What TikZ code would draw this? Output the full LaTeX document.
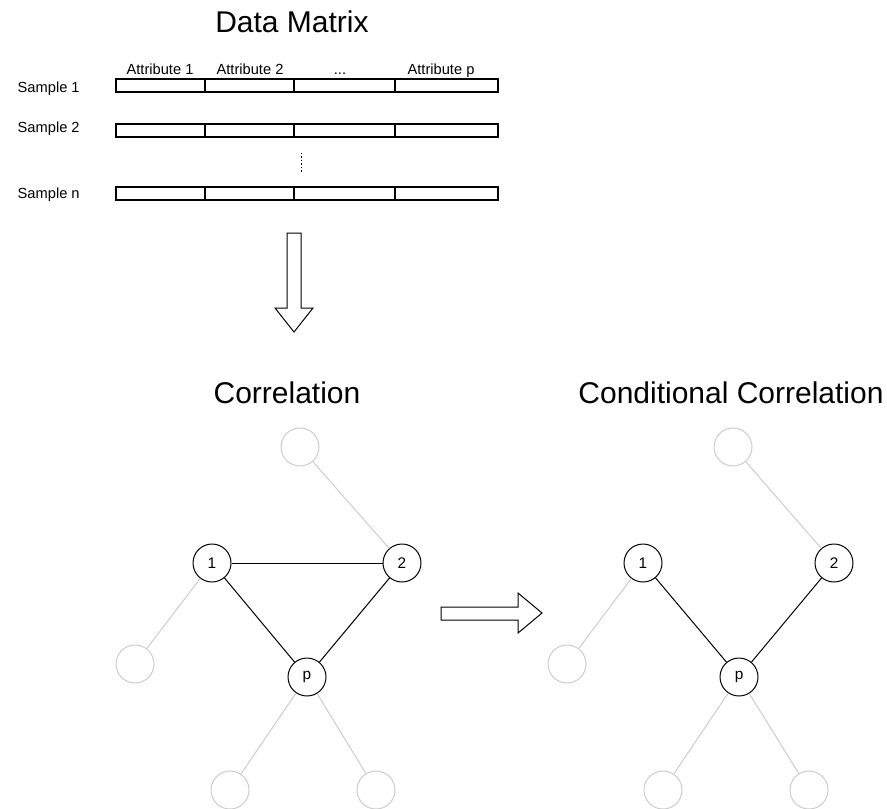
\documentclass[tikz,border=0pt]{standalone}
\usepackage{fontspec}
\setmainfont{Liberation Sans}
\tikzset{title/.style = {anchor=base, font=\fontsize{22.5}{27}\selectfont},
         tag/.style = {anchor=base, font=\fontsize{11}{13}\selectfont},
         cell/.style = {draw, line width=0.85pt},
         vertex/.style = {draw, line width=0.75pt, circle, inner sep=0pt, minimum size=28.5pt, font=\fontsize{11.5}{13}\selectfont},
         ghost/.style = {draw=black!20, line width=0.75pt, circle, inner sep=0pt, minimum size=28.5pt},
         edge/.style = {line width=0.75pt},
         ghostedge/.style = {draw=black!20, line width=0.75pt},
         fatarrow/.style = {draw, line width=0.75pt, fill=white, line join=miter}}
\begin{document}
\begin{tikzpicture}[x=0.75pt,y=-0.75pt]
        \useasboundingbox (0,0) rectangle (887,808);

        \node[title] (dm) at (292,32) {Data Matrix};

        \node[tag] (a1) at (160,74) {Attribute 1};
        \node[tag] (a2) at (250,74) {Attribute 2};
        \node[tag] (a3) at (340,74) {...};
        \node[tag] (ap) at (441,74) {Attribute p};

        \node[tag, anchor=base west] (s1) at (13,92) {Sample 1};
        \node[tag, anchor=base west] (s2) at (13,132) {Sample 2};
        \node[tag, anchor=base west] (sn) at (13,198) {Sample n};

        \foreach \y in {79,124,187}{
            \draw[cell] (116,\y) rectangle (498,\y+13);
            \foreach \x in {205,294,395}
                \draw[cell] (\x,\y) -- (\x,\y+13);
        }
        \draw[line width=0.75pt, dash pattern=on 1pt off 1.6pt] (301,153)--(301,173);

        \draw[fatarrow] (287,233)--(301,233)--(301,308)--(313,308)--(294,332)--(275,308)--(287,308)--cycle;

        \node[title] (cor) at (287,403) {Correlation};
        \node[title] (ccor) at (731,403) {Conditional Correlation};

        \node[vertex] (l1) at (212,563) {1};
        \node[vertex] (l2) at (402,563) {2};
        \node[vertex] (lp) at (307,677) {p};
        \node[ghost] (lt) at (300,447) {};
        \node[ghost] (ll) at (135,664) {};
        \node[ghost] (lbl) at (230,790) {};
        \node[ghost] (lbr) at (376,790) {};

        \draw[ghostedge] (lt)--(l2);
        \draw[ghostedge] (l1)--(ll);
        \draw[ghostedge] (lp)--(lbl);
        \draw[ghostedge] (lp)--(lbr);
        \draw[edge] (l1)--(l2);
        \draw[edge] (l1)--(lp);
        \draw[edge] (l2)--(lp);

        \draw[fatarrow] (441,607)--(518,607)--(518,593)--(542,613)--(518,633)--(518,620)--(441,620)--cycle;

        \node[vertex] (r1) at (643,563) {1};
        \node[vertex] (r2) at (834,563) {2};
        \node[vertex] (rp) at (739,677) {p};
        \node[ghost] (rt) at (733,447) {};
        \node[ghost] (rl) at (567,664) {};
        \node[ghost] (rbl) at (663,790) {};
        \node[ghost] (rbr) at (809,790) {};

        \draw[ghostedge] (rt)--(r2);
        \draw[ghostedge] (r1)--(rl);
        \draw[ghostedge] (rp)--(rbl);
        \draw[ghostedge] (rp)--(rbr);
        \draw[edge] (r1)--(rp);
        \draw[edge] (r2)--(rp);
    \end{tikzpicture}
\end{document}
